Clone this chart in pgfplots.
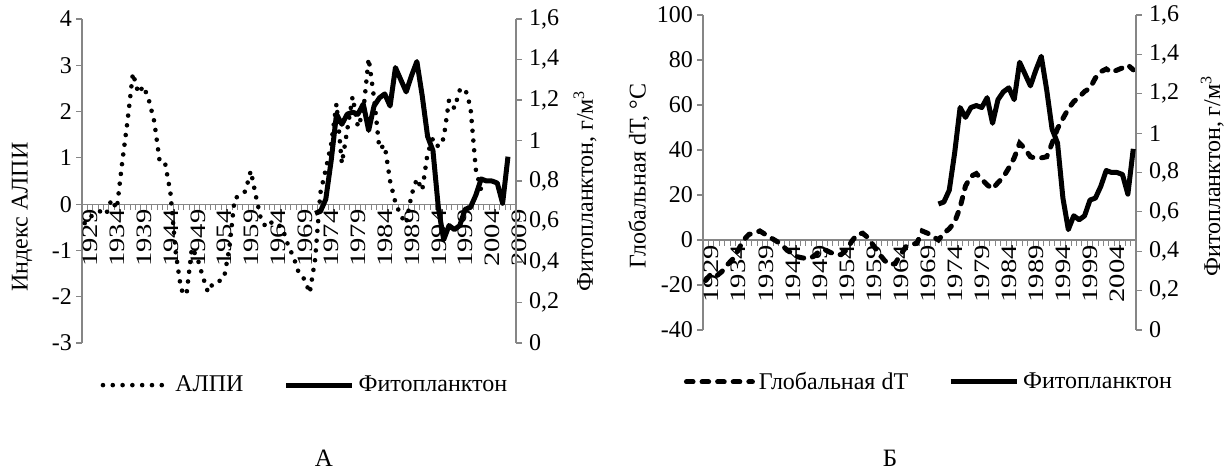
\documentclass[border=0pt]{standalone}
\usepackage{fontspec}
\setmainfont{Liberation Serif}
\usepackage{graphicx}
\usepackage{pgfplots}
\pgfplotsset{compat=1.18}
\usepackage{pgfplotstable}
\definecolor{axgray}{RGB}{134,134,134}
\newcommand{\yr}[1]{\scalebox{1.3}[1]{#1}}

\pgfplotstableread{
year v
1929 -0.41
1930 -0.28
1931 -0.20
1932 -0.15
1933 -0.22
1934 0.10
1935 -0.10
1936 0.90
1937 1.80
1938 2.83
1939 2.40
1940 2.55
1941 2.24
1942 1.78
1943 0.92
1944 0.89
1945 0.25
1946 -1.05
1947 -1.85
1948 -1.96
1949 -0.95
1950 -1.15
1951 -1.55
1952 -1.90
1953 -1.70
1954 -1.67
1955 -1.60
1956 -0.95
1957 0.13
1958 0.18
1959 0.28
1960 0.72
1961 0.15
1962 -0.38
1963 -0.50
1964 -0.38
1965 -0.42
1966 -0.55
1967 -0.90
1968 -1.15
1969 -1.50
1970 -1.62
1971 -1.92
1972 -1.20
1973 0.25
1974 0.75
1975 1.30
1976 2.17
1977 0.88
1978 1.60
1979 2.32
1980 1.67
1981 2.00
1982 3.15
1983 2.30
1984 1.20
1985 1.27
1986 0.50
1987 0.03
1988 -0.25
1989 -0.42
1990 0.20
1991 0.55
1992 0.30
1993 1.10
1994 1.42
1995 1.24
1996 1.42
1997 2.25
1998 2.07
1999 2.46
2000 2.50
2001 2.10
2002 0.75
2003 0.30
}\alpi

\pgfplotstableread{
year v
1972 0.64
1973 0.65
1974 0.71
1975 0.90
1976 1.13
1977 1.08
1978 1.13
1979 1.14
1980 1.13
1981 1.18
1982 1.05
1983 1.17
1984 1.21
1985 1.23
1986 1.17
1987 1.36
1988 1.30
1989 1.24
1990 1.32
1991 1.39
1992 1.22
1993 1.02
1994 0.95
1995 0.67
1996 0.51
1997 0.58
1998 0.56
1999 0.58
2000 0.66
2001 0.67
2002 0.73
2003 0.81
2004 0.80
2005 0.80
2006 0.79
2007 0.69
2008 0.92
}\phyto

\pgfplotstableread{
year v
1929 -18
1930 -15
1931 -16
1932 -14
1933 -11
1934 -8.5
1935 -4.5
1936 0
1937 2.5
1938 3
1939 4
1940 2.5
1941 1
1942 -0.4
1943 -2
1944 -4.5
1945 -6
1946 -7.5
1947 -8
1948 -8.3
1949 -7.2
1950 -5
1951 -4.3
1952 -5.5
1953 -6.5
1954 -6.5
1955 -4.5
1956 -0.5
1957 2.5
1958 3
1959 1
1960 -2.5
1961 -6
1962 -9
1963 -11
1964 -10.5
1965 -6.5
1966 -3
1967 -1.9
1968 -1.5
1969 4
1970 3
1971 1.5
1972 0
1973 3
1974 5
1975 8
1976 14.5
1977 24
1978 28.3
1979 29.5
1980 27
1981 24.5
1982 22.7
1983 25.5
1984 28
1985 32
1986 36.5
1987 43
1988 40.5
1989 37
1990 36.3
1991 36.5
1992 37
1993 43
1994 49.5
1995 54
1996 58.3
1997 61.5
1998 63.5
1999 66
2000 67.5
2001 72
2002 74.8
2003 76
2004 74.5
2005 75.5
2006 76.5
2007 77.8
2008 75.6
}\dT

\pgfplotsset{
  base/.style={
    scale only axis, clip=false,
    axis line style={axgray, line width=0.6pt},
    tick style={axgray, line width=0.6pt},
    major tick length=3pt, minor tick length=3pt,
    tick label style={font=\fontsize{12}{14}\selectfont, black},
    label style={font=\fontsize{12}{14}\selectfont},
    hide obscured x ticks=false, hide obscured y ticks=false,
  },
  xcat/.style={
    tick align=center,
    axis x line*=middle,
    major x tick style={draw=none},
    minor x tick style={axgray, line width=0.5pt, yshift=-1.5pt},
    major y tick style={axgray, line width=0.6pt, xshift=-1.5pt},
    xticklabel style={rotate=90, anchor=east, font=\fontsize{11}{13}\selectfont, inner sep=1pt, yshift=-3pt},
  },
  alpistyle/.style={black, line width=2.3pt, line cap=round, dash pattern=on 0pt off 4.9pt},
  phytostyle/.style={black, line width=2.5pt, line join=round},
  dTstyle/.style={black, line width=2.5pt, line cap=round, dash pattern=on 3.3pt off 4.5pt},
  leg/.style={
    tick align=outside,
    legend style={draw=none, fill=none, legend columns=2,
      font=\fontsize{12}{14}\selectfont,
      /tikz/every even column/.append style={column sep=18pt}},
    legend cell align=left,
    legend image code/.code={\draw[##1] (0pt,0pt) -- (33pt,0pt);},
  },
}

\begin{document}
\begin{tikzpicture}
\useasboundingbox (0,0) rectangle (612.5pt,238pt);

% ---------- Chart A ----------
\begin{axis}[base, xcat, at={(41pt,66.5pt)}, anchor=south west,
  width=217pt, height=162pt,
  xmin=1928.5, xmax=2009.5, ymin=-3, ymax=4,
  axis y line*=left,
  xtick={1929,1934,...,2009},
  xticklabels={\yr{1929},\yr{1934},\yr{1939},\yr{1944},\yr{1949},\yr{1954},\yr{1959},\yr{1964},\yr{1969},\yr{1974},\yr{1979},\yr{1984},\yr{1989},\yr{1994},\yr{1999},\yr{2004},\yr{2009}},
  minor xtick={1928.5,1929.5,...,2009.5},
  ytick={-3,-2,-1,0,1,2,3,4},
  yticklabels={-3,-2,-1,0,1,2,3,4},
  ylabel={Индекс АЛПИ},
  ylabel style={at={(axis description cs:-0.138,0.389)}, anchor=center},
]
\addplot[alpistyle] table[x=year, y=v] {\alpi};
\end{axis}

\begin{axis}[base, leg, at={(41pt,66.5pt)}, anchor=south west,
  width=217pt, height=162pt,
  xmin=1928.5, xmax=2009.5, ymin=0, ymax=1.6,
  axis x line=none, axis y line*=right,
  ytick={0,0.2,0.4,0.6,0.8,1,1.2,1.4,1.6},
  yticklabels={0,{0,2},{0,4},{0,6},{0,8},1,{1,2},{1,4},{1,6}},
  ylabel={Фитопланктон, г/м\textsuperscript{3}},
  ylabel style={at={(axis description cs:1.159,0.47)}, anchor=center},
  legend style={at={(axis description cs:0.516,-0.13)}, anchor=center},
]
\addlegendimage{alpistyle}
\addlegendentry{АЛПИ}
\addplot[phytostyle] table[x=year, y=v] {\phyto};
\addlegendentry{Фитопланктон}
\end{axis}

% ---------- Chart B ----------
\begin{axis}[base, xcat, at={(351.5pt,73pt)}, anchor=south west,
  width=216.5pt, height=157.5pt,
  xmin=1928.5, xmax=2008.5, ymin=-40, ymax=100,
  axis y line*=left,
  xtick={1929,1934,...,2004},
  xticklabels={\yr{1929},\yr{1934},\yr{1939},\yr{1944},\yr{1949},\yr{1954},\yr{1959},\yr{1964},\yr{1969},\yr{1974},\yr{1979},\yr{1984},\yr{1989},\yr{1994},\yr{1999},\yr{2004}},
  minor xtick={1928.5,1929.5,...,2008.5},
  ytick={-40,-20,0,20,40,60,80,100},
  yticklabels={-40,-20,0,20,40,60,80,100},
  ylabel={Глобальная dT, °C},
  ylabel style={at={(axis description cs:-0.148,0.489)}, anchor=center},
]
\addplot[dTstyle] table[x=year, y=v] {\dT};
\end{axis}

\begin{axis}[base, leg, at={(351.5pt,73pt)}, anchor=south west,
  width=216.5pt, height=157.5pt,
  xmin=1928.5, xmax=2008.5, ymin=0, ymax=1.6,
  axis x line=none, axis y line*=right,
  ytick={0,0.2,0.4,0.6,0.8,1,1.2,1.4,1.6},
  yticklabels={0,{0,2},{0,4},{0,6},{0,8},1,{1,2},{1,4},{1,6}},
  ylabel={Фитопланктон, г/м\textsuperscript{3}},
  ylabel style={at={(axis description cs:1.176,0.489)}, anchor=center},
  legend style={at={(axis description cs:0.524,-0.165)}, anchor=center},
]
\addlegendimage{dTstyle}
\addlegendentry{Глобальная dT}
\addplot[phytostyle] table[x=year, y=v] {\phyto};
\addlegendentry{Фитопланктон}
\end{axis}

\node[font=\fontsize{12.5}{14}\selectfont] at (162pt,9pt) {А};
\node[font=\fontsize{12.5}{14}\selectfont] at (445pt,9pt) {Б};
\end{tikzpicture}
\end{document}
